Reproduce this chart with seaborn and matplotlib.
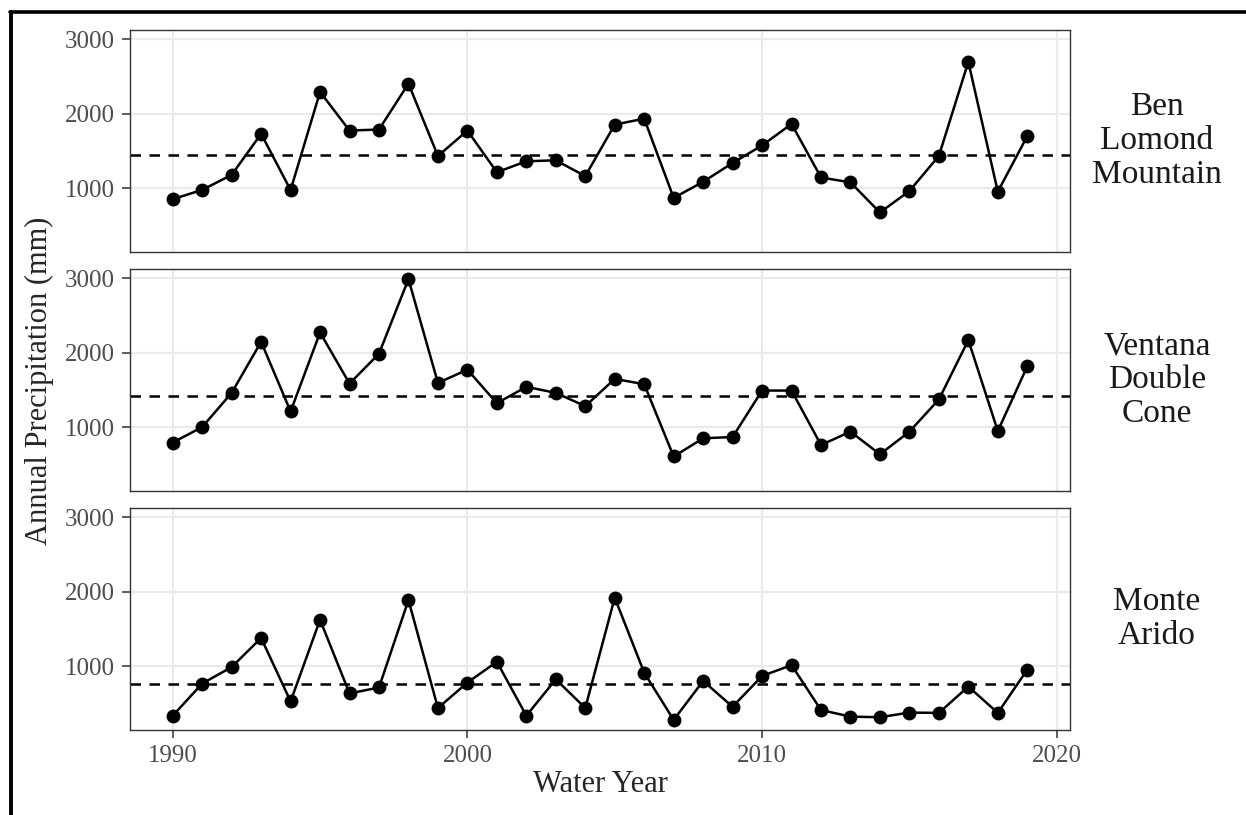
import numpy as np
import pandas as pd
import seaborn as sns
import matplotlib.pyplot as plt
from matplotlib.lines import Line2D

years = list(range(1990, 2020))
sites = ["Ben\nLomond\nMountain", "Ventana\nDouble\nCone", "Monte\nArido"]

ben_lomond = [850, 975, 1177, 1729, 973, 2293, 1773, 1787, 2404, 1431,
              1773, 1213, 1360, 1373, 1160, 1853, 1933, 867, 1084, 1337,
              1573, 1862, 1142, 1076, 671, 960, 1431, 2698, 951, 1698]
ventana = [791, 1000, 1460, 2147, 1210, 2272, 1585, 1987, 2990, 1594,
           1772, 1321, 1541, 1460, 1281, 1648, 1576, 604, 849, 866,
           1491, 1491, 759, 938, 634, 938, 1371, 2170, 946, 1817]
monte_arido = [333, 765, 987, 1378, 525, 1623, 632, 712, 1889, 436,
               778, 1058, 333, 822, 436, 1920, 911, 276, 800, 453,
               867, 1013, 409, 320, 312, 375, 370, 725, 370, 952]

x_ticks = [1990, 2000, 2010, 2020]
y_ticks = [1000, 2000, 3000]

df = pd.DataFrame({
    "year": years * 3,
    "precip": ben_lomond + ventana + monte_arido,
    "site": np.repeat(sites, len(years)),
})

sns.set_style("white")
plt.rcParams["font.family"] = ["Liberation Serif", "DejaVu Serif"]

fig, axes = plt.subplots(3, 1, figsize=(12.46, 8.15), dpi=100, sharex=True, sharey=True)
fig.subplots_adjust(left=130 / 1246, right=1070 / 1246, top=1 - 30 / 815,
                    bottom=1 - 730 / 815, hspace=0.077)

lo, hi = df["precip"].min(), df["precip"].max()
pad = 0.05 * (hi - lo)
xpad = 0.05 * (max(years) - min(years))

for ax, site in zip(axes, sites):
    sub = df[df["site"] == site]
    ax.grid(True, color="#EBEBEB", linewidth=1.6)
    ax.set_axisbelow(True)
    ax.axhline(sub["precip"].mean(), color="black", linewidth=1.8,
               linestyle=(0, (4.2, 3.4)), zorder=2)
    sns.lineplot(data=sub, x="year", y="precip", ax=ax, color="black",
                 linewidth=1.8, marker="o", markersize=10,
                 markeredgewidth=0, zorder=3)
    ax.set_xlim(min(years) - xpad, max(years) + xpad)
    ax.set_ylim(lo - pad, hi + pad)
    ax.set_xticks(x_ticks)
    ax.set_yticks(y_ticks)
    ax.set_xlabel("")
    ax.set_ylabel("")
    for s in ax.spines.values():
        s.set_color("#333333")
        s.set_linewidth(1.0)
    ax.tick_params(axis="both", which="both", length=6, width=1.1,
                   color="#333333", labelcolor="#4D4D4D", labelsize=18, pad=5)
    ax.tick_params(axis="x", bottom=(ax is axes[-1]))
    ax.tick_params(axis="y", left=True)
    ax.text(1.0926, 0.5, site, transform=ax.transAxes, ha="center", va="center",
            fontsize=24, color="#1A1A1A", linespacing=1.15)

fig.text(39 / 1246, 1 - 381 / 815, "Annual Precipitation (mm)", rotation=90,
         ha="center", va="center", fontsize=22)
fig.text(600 / 1246, 1 - 785 / 815, "Water Year", ha="center", va="center", fontsize=22)

# outer frame (top and left edges)
fig.add_artist(Line2D([10 / 1246, 1.0], [1 - 12 / 815, 1 - 12 / 815],
                      transform=fig.transFigure, color="black", linewidth=2.6))
fig.add_artist(Line2D([11 / 1246, 11 / 1246], [0.0, 1 - 12 / 815],
                      transform=fig.transFigure, color="black", linewidth=2.8))

fig.savefig("out.png", dpi=100)
